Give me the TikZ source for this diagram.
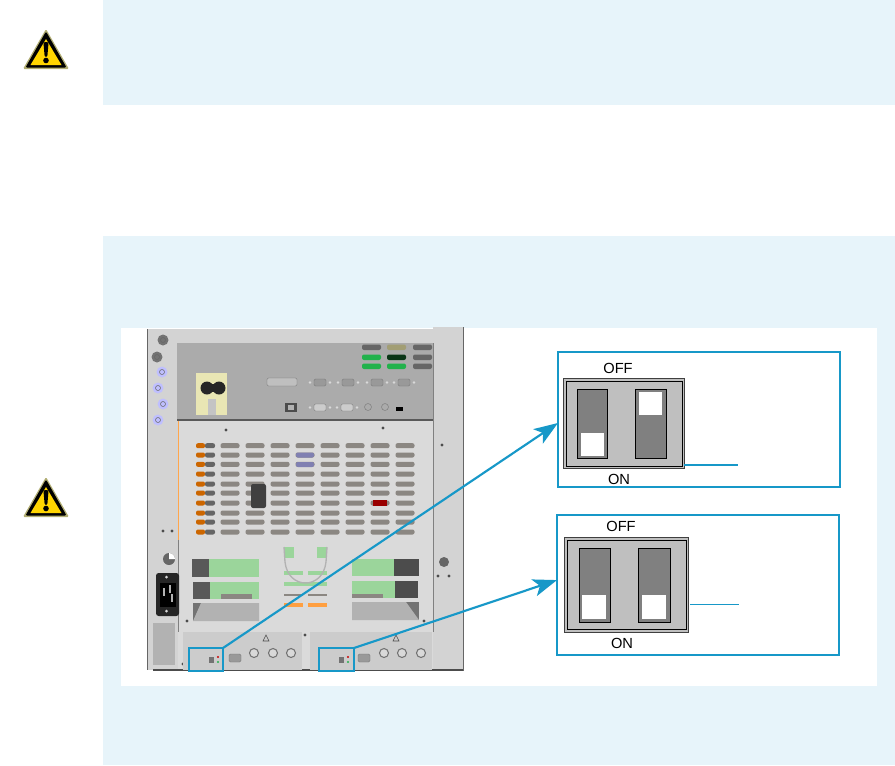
\documentclass[tikz,border=0pt]{standalone}
\usepackage{fontspec}
\setmainfont{Liberation Sans}
\usepackage{xcolor}
\usetikzlibrary{arrows.meta, fit}
\definecolor{panelblue}{HTML}{E7F4FA}
\definecolor{linkblue}{HTML}{1798C8}
\definecolor{chassis}{HTML}{D3D3D3}
\definecolor{plate}{HTML}{DADADA}
\definecolor{rearpanel}{HTML}{ABABAB}
\definecolor{slotgray}{HTML}{8B8782}
\definecolor{softgreen}{HTML}{9BD59B}
\definecolor{ledgreen}{HTML}{22B24C}
\definecolor{signyellow}{HTML}{FFD500}

\begin{document}
\begin{tikzpicture}[x=0.75pt, y=-0.75pt,
  panel/.style={fill=panelblue, draw=none},
  detailbox/.style={draw=linkblue, line width=1.5pt, inner sep=0pt, outer sep=0pt},
  selectbox/.style={draw=linkblue, line width=2pt, inner sep=0pt, outer sep=0pt},
  switchbody/.style={draw=black!75, fill=black!25, line width=0.7pt, inner sep=0pt, outer sep=0pt},
  switchslot/.style={draw=black, fill=black!50, line width=0.7pt},
  switchknob/.style={fill=white, draw=none},
  swlabel/.style={font=\fontsize{11}{13}\selectfont, inner sep=0pt},
  link/.style={draw=linkblue, line width=1.6pt, -{Stealth[length=18pt, width=13pt, inset=4.5pt]}},
  leader/.style={draw=linkblue, line width=1.1pt},
  slot/.style={fill=slotgray, rounded corners=1.5pt},
  connector/.style={draw=black!55, fill=black!25, line width=0.3pt, rounded corners=1pt},
  warnsign/.pic={
    \fill[yellow!50!black!70, rounded corners=1pt] (0,-40) -- (23,0) -- (-23,0) -- cycle;
    \fill[black, rounded corners=1pt] (0,-37.5) -- (20.5,-1.5) -- (-20.5,-1.5) -- cycle;
    \fill[signyellow] (0,-30) -- (15.5,-4) -- (-15.5,-4) -- cycle;
    \fill[black, rounded corners=1pt] (-2.6,-27) -- (2.6,-27) -- (1.3,-12) -- (-1.3,-12) -- cycle;
    \fill[black] (0,-8.5) circle (2.8);
  }
]
  \useasboundingbox (0,0) rectangle (895,765);

  % Background panels
  \fill[panel] (103,0) rectangle (895,105);
  \fill[panel] (103,236) rectangle (895,765);
  \fill[white] (121,328) rectangle (877,686);

  % Warning signs
  \pic at (46,69) {warnsign};
  \pic at (46,517) {warnsign};

  % Chassis
  \fill[chassis] (147,329) rectangle (178,670);
  \fill[chassis] (147,329) rectangle (433,343);
  \fill[chassis] (433,327) rectangle (463,671);
  \fill[plate] (178,421) rectangle (433,670);
  \draw[black!60, line width=0.6pt] (147,329) -- (147,670);
  \draw[black!60, line width=0.6pt] (463,327) -- (463,671);
  \draw[black!50, line width=0.5pt] (433,343) -- (433,632);
  \draw[black!50, line width=0.5pt] (178,540) -- (178,632);
  \draw[orange!70, line width=0.5pt] (178,421) -- (178,540);
  \draw[black!70, line width=0.8pt] (153,670) -- (463,670);
  \fill[black!30] (153,623) rectangle (175,665);

  % Knobs on the left edge
  \foreach \x/\y/\c in {163/340/black!55, 157/357/black!55, 162/372/blue!25, 158/388/blue!25, 163/404/blue!25, 158/420/blue!25} {
    \fill[\c] (\x,\y) circle (5.5);
    \draw[black!60, line width=0.4pt] (\x,\y) circle (2.5);
  }

  % Screws and holes
  \foreach \x/\y in {226/430, 383/428, 442/445, 163/531, 172/531, 438/576, 449/576, 187/621, 424/621, 305/635, 183/664} {
    \fill[black!70] (\x,\y) circle (1.6);
  }

  % Rear panel
  \fill[rearpanel] (177,343) rectangle (433,420);
  \draw[black!65, line width=0.8pt] (177,420) -- (433,420);

  % Power block
  \fill[yellow!25!white!90!black] (196,373) rectangle (227,415);
  \fill[rearpanel!70] (208,399) rectangle (216,415);
  \fill[black!85] (207,388) circle (6.5);
  \fill[black!85] (219,388) circle (6.5);
  \fill[black!85] (207,384) rectangle (219,392);

  % Indicator bars
  \foreach \x/\y/\c in {362/347/black!60, 387/347/yellow!40!black!70, 413/347/black!60,
                        362/357/ledgreen, 387/357/ledgreen!30!black, 413/357/black!60,
                        362/366/ledgreen, 387/366/ledgreen, 413/366/black!60} {
    \fill[\c, rounded corners=1.5pt] (\x,\y-2.5) rectangle (\x+19,\y+3);
  }

  % Connectors
  \draw[connector] (267,378) rectangle (297,386);
  \foreach \x in {320, 348, 377, 404} {
    \draw[connector, fill=black!40] (\x-6,379) rectangle (\x+6,386);
    \fill[white!85!black] (\x-10,382.5) circle (1.4);
    \fill[white!85!black] (\x+10,382.5) circle (1.4);
  }
  \foreach \x in {320, 347} {
    \draw[connector, fill=black!20] (\x-6,404) rectangle (\x+6,411);
    \fill[white!85!black] (\x-10,407.5) circle (1.4);
    \fill[white!85!black] (\x+10,407.5) circle (1.4);
  }
  \draw[black!50, line width=0.4pt] (368,407) circle (3.5);
  \draw[black!50, line width=0.4pt] (385,407) circle (3.5);
  \fill[black!70] (285,403) rectangle (297,412);
  \fill[black!30] (288,405) rectangle (294,410);
  \fill[black] (396,407) rectangle (403,411);

  % Air slots
  \foreach \y in {445.7, 455, 464.3, 474, 484, 493, 503, 513, 522, 532} {
    \fill[orange!80!black, rounded corners=1.5pt] (196,\y-2.5) rectangle (205,\y+2.5);
    \fill[black!60, rounded corners=1.5pt] (205,\y-2.5) rectangle (215,\y+2.5);
    \foreach \x in {230, 255, 280, 305, 330, 355, 380, 405} {
      \fill[slot] (\x-9.5,\y-2.5) rectangle (\x+9.5,\y+2.5);
    }
  }
  \fill[black!75, rounded corners=1.5pt] (251,484) rectangle (266,508);
  \fill[red!60!black] (373,500) rectangle (387,506);
  \fill[blue!25!gray!80, rounded corners=1.5pt] (296,452.5) rectangle (314,457.5);
  \fill[blue!25!gray!80, rounded corners=1.5pt] (296,462) rectangle (314,467);

  % Green bays
  \fill[black!65] (192,559) rectangle (209,577);
  \fill[softgreen] (209,559) rectangle (259,577);
  \fill[black!65] (193,582) rectangle (210,599);
  \fill[softgreen] (210,582) rectangle (259,599);
  \fill[slotgray] (221,594) rectangle (252,599);
  \fill[black!55] (193,603) rectangle (259,621);
  \fill[black!30] (201,603) -- (259,603) -- (259,621) -- (193,621) -- cycle;
  \fill[softgreen] (352,559) rectangle (394,576);
  \fill[black!70] (394,559) rectangle (419,576);
  \fill[softgreen] (352,581) rectangle (395,598);
  \fill[black!70] (395,581) rectangle (418,598);
  \fill[slotgray] (352,594) rectangle (383,598);
  \fill[black!55] (352,602) rectangle (419,620);
  \fill[black!30] (352,602) -- (406,602) -- (419,620) -- (352,620) -- cycle;

  % Handle and stripes
  \fill[softgreen] (284,547) rectangle (294,558);
  \fill[softgreen] (317,547) rectangle (327,558);
  \fill[softgreen] (284,571) rectangle (303,575);
  \fill[softgreen] (308,571) rectangle (327,575);
  \fill[softgreen] (284,582) rectangle (327,586);
  \fill[slotgray] (284,594) rectangle (303,596);
  \fill[slotgray] (308,594) rectangle (327,596);
  \fill[orange!75] (284,603) rectangle (303,607);
  \fill[orange!75] (308,603) rectangle (327,607);
  \draw[black!30, line width=1pt] (284,547) -- (285,562) .. controls (288,590) and (323,590) .. (326,562) -- (327,547);

  % Mains inlet
  \fill[black!85, rounded corners=2pt] (156,573) rectangle (179,616);
  \fill[black] (160,583) rectangle (176,607);
  \foreach \x/\y in {164/592, 170/589, 172/598} {
    \fill[white!70!black] (\x-1,\y-4) rectangle (\x+1,\y+4);
  }
  \fill[white!85!black] (166.5,577) circle (1.5);
  \fill[white!85!black] (166.5,611) circle (1.5);
  \fill[black!60] (169,559) circle (6);
  \fill[white] (169,559) -- (175,559) arc (0:-90:6) -- cycle;
  \fill[black!60] (444,562) circle (5);

  % Output modules
  \fill[black!20] (183,632) rectangle (302,670);
  \fill[black!20] (310,632) rectangle (432,670);
  \foreach \x in {254, 273, 291, 384, 402, 421} {
    \draw[black!55, fill=black!15, line width=0.8pt] (\x,653) circle (4.5);
  }
  \draw[connector, fill=black!40] (229,654) rectangle (241,662);
  \draw[connector, fill=black!40] (358,654) rectangle (370,662);
  \draw[black!70, line width=0.4pt] (263,641) -- (266,635) -- (269,641) -- cycle;
  \draw[black!70, line width=0.4pt] (393,641) -- (396,635) -- (399,641) -- cycle;
  \fill[black!55] (209,657) rectangle (214,663);
  \fill[black!55] (339,657) rectangle (344,663);
  \foreach \x in {218, 348} {
    \fill[red!80!black] (\x,657) circle (1.2);
    \fill[ledgreen] (\x,662) circle (1.2);
  }

  % Selection frames
  \node[selectbox, fit={(189,648) (223,671)}] (selectA) {};
  \node[selectbox, fit={(319,648) (354,671)}] (selectB) {};

  % Detail frames
  \node[detailbox, fit={(558,352) (840,487)}] (boxA) {};
  \node[detailbox, fit={(557,515) (839,655)}] (boxB) {};

  % Switch A
  \node[switchbody, fit={(563,378) (684,468)}] (switchA) {};
  \draw[black, line width=0.6pt] (566,381) rectangle (682,466);
  \draw[switchslot] (577,389) rectangle (607,458);
  \draw[switchslot] (635,389) rectangle (666,458);
  \fill[switchknob] (581,433) rectangle (604,456);
  \fill[switchknob] (639,392) rectangle (662,415);
  \node[swlabel] (offA) at (618,368) {OFF};
  \node[swlabel] (onA) at (619,479) {ON};

  % Switch B
  \node[switchbody, fit={(564,537) (688,632)}] (switchB) {};
  \draw[black, line width=0.6pt] (567,540) rectangle (686,629);
  \draw[switchslot] (579,548) rectangle (610,622);
  \draw[switchslot] (638,548) rectangle (670,622);
  \fill[switchknob] (582,595) rectangle (606,619);
  \fill[switchknob] (642,595) rectangle (666,619);
  \node[swlabel] (offB) at (621,526) {OFF};
  \node[swlabel] (onB) at (622,643) {ON};

  % Leader lines
  \coordinate (leadA) at (738,465);
  \coordinate (leadB) at (739,604);
  \draw[leader] (switchA.east |- leadA) -- (leadA);
  \draw[leader, line width=0.5pt] ([xshift=1.5pt]switchB.east |- leadB) -- (leadB);

  % Links to the detail frames
  \draw[link] (selectA.north east) -- ([yshift=-2.6pt]boxA.west);
  \draw[link] (selectB.north east) -- ([yshift=3.7pt]boxB.west);
\end{tikzpicture}
\end{document}
